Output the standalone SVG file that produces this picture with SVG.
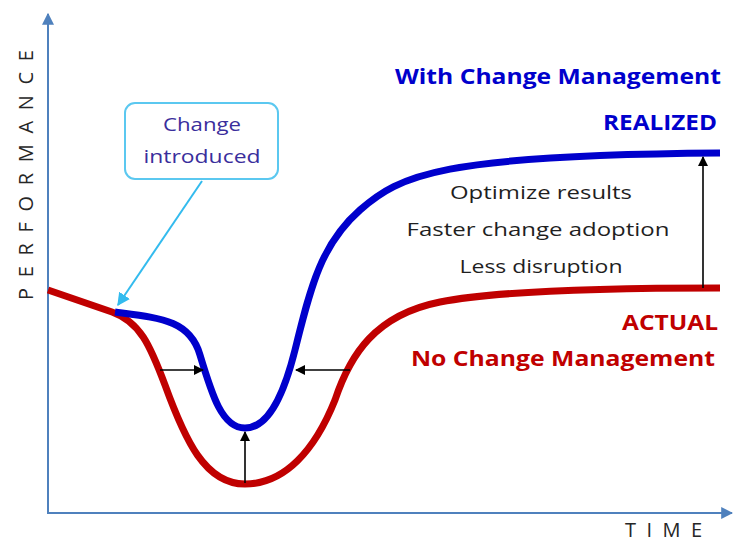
<svg xmlns="http://www.w3.org/2000/svg" width="733" height="542" viewBox="0 0 733 542">
<defs>
<style>
.ax{stroke:#4f81bd;stroke-width:2;fill:none}
.crv{fill:none;stroke-width:7;stroke-linecap:butt}
.ar{stroke:#000;stroke-width:1.6;fill:none}
.t{font-family:"Open Sans","Noto Sans","Liberation Sans",sans-serif}
.lbl{font-weight:bold;font-size:21px;text-anchor:end}
.mid{font-size:19px;fill:#1f1f1f;text-anchor:middle}
.axl{font-size:20px;fill:#262626}
.co{font-size:19px;fill:#3a2e9c;text-anchor:middle}
</style>
<marker id="mk" viewBox="0 0 10 10" refX="9" refY="5" markerWidth="10" markerHeight="10" markerUnits="userSpaceOnUse" orient="auto"><path d="M0,0L10,5L0,10Z" fill="#000"/></marker>
<marker id="mb" viewBox="0 0 10 10" refX="9" refY="5" markerWidth="12" markerHeight="12" markerUnits="userSpaceOnUse" orient="auto"><path d="M0,0L10,5L0,10Z" fill="#4f81bd"/></marker>
<marker id="mc" viewBox="0 0 10 10" refX="9" refY="5" markerWidth="13" markerHeight="13" markerUnits="userSpaceOnUse" orient="auto"><path d="M0,0L10,5L0,10Z" fill="#33bbee"/></marker>
</defs>
<rect width="733" height="542" fill="#fff"/>
<g id="axes">
<line class="ax" x1="48" y1="514" x2="48" y2="14" marker-end="url(#mb)"/>
<line class="ax" x1="47" y1="513" x2="732" y2="513" marker-end="url(#mb)"/>
<text class="t axl" transform="translate(33,300) rotate(-90)" textLength="250" lengthAdjust="spacing">PERFORMANCE</text>
<text class="t axl" x="625" y="537" textLength="77" lengthAdjust="spacing">TIME</text>
</g>
<g id="actual-curve">
<path class="crv" stroke="#c00000" d="M48,290 L112,312 C140,322 150,345 165,385 C185,440 205,484 245,484 C285,484 315,450 335,400 C350,355 375,315 440,302 C500,290 620,288 720,288"/>
</g>
<g id="realized-curve">
<path class="crv" stroke="#0000cc" d="M115,312 C160,318 190,320 200,355 C212,395 222,428 245,428 C270,428 285,390 295,350 C310,290 320,245 360,210 C400,175 440,155 720,153"/>
</g>
<g id="connectors">
<line class="ar" x1="160" y1="370" x2="203" y2="370" marker-end="url(#mk)"/>
<line class="ar" x1="350" y1="370" x2="296" y2="370" marker-end="url(#mk)"/>
<line class="ar" x1="245" y1="483" x2="245" y2="432" marker-end="url(#mk)"/>
<line class="ar" x1="703" y1="288" x2="703" y2="157" marker-end="url(#mk)"/>
<line x1="202" y1="181" x2="118" y2="305" stroke="#33bbee" stroke-width="2" marker-end="url(#mc)"/>
</g>
<g id="callout">
<rect x="125" y="103" width="153" height="76" rx="10" fill="#fff" stroke="#5bc8f0" stroke-width="2"/>
<text class="t co" x="202" y="131" textLength="78" lengthAdjust="spacingAndGlyphs">Change</text>
<text class="t co" x="202" y="163" textLength="117" lengthAdjust="spacingAndGlyphs">introduced</text>
</g>
<g id="realized-labels">
<text class="t lbl" x="721" y="84" fill="#0000cc" textLength="326" lengthAdjust="spacingAndGlyphs">With Change Management</text>
<text class="t lbl" x="717" y="130" fill="#0000cc" textLength="114" lengthAdjust="spacingAndGlyphs">REALIZED</text>
</g>
<g id="benefits">
<text class="t mid" x="541" y="199" textLength="182" lengthAdjust="spacingAndGlyphs">Optimize results</text>
<text class="t mid" x="538" y="236" textLength="263" lengthAdjust="spacingAndGlyphs">Faster change adoption</text>
<text class="t mid" x="541" y="273" textLength="163" lengthAdjust="spacingAndGlyphs">Less disruption</text>
</g>
<g id="actual-labels">
<text class="t lbl" x="718" y="330" fill="#c00000" textLength="96" lengthAdjust="spacingAndGlyphs">ACTUAL</text>
<text class="t lbl" x="715" y="366" fill="#c00000" textLength="304" lengthAdjust="spacingAndGlyphs">No Change Management</text>
</g>
</svg>
